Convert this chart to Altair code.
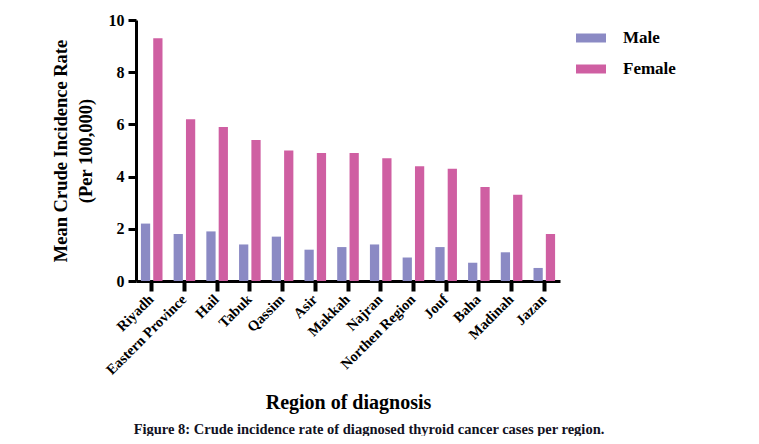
import altair as alt
import pandas as pd

regions = ["Riyadh", "Eastern Province", "Hail", "Tabuk", "Qassim", "Asir", "Makkah",
           "Najran", "Northen Region", "Jouf", "Baha", "Madinah", "Jazan"]
male = [2.2, 1.8, 1.9, 1.4, 1.7, 1.2, 1.3, 1.4, 0.9, 1.3, 0.7, 1.1, 0.5]
female = [9.3, 6.2, 5.9, 5.4, 5.0, 4.9, 4.9, 4.7, 4.4, 4.3, 3.6, 3.3, 1.8]
sexes = ["Male", "Female"]
colors = ["#8B8AC4", "#CF5FA2"]

rows = []
for r, m, f in zip(regions, male, female):
    rows.append({"Region": r, "Sex": "Male", "Rate": m})
    rows.append({"Region": r, "Sex": "Female", "Rate": f})
df = pd.DataFrame(rows)

FONT = "Liberation Serif"

chart = alt.Chart(df).mark_bar().encode(
    x=alt.X("Region:N", sort=regions,
            scale=alt.Scale(paddingInner=0.34, paddingOuter=0.15),
            axis=alt.Axis(title="Region of diagnosis", labelAngle=-45, labelAlign="right",
                          labelBaseline="middle", labelFontSize=14.5, labelFontWeight="bold",
                          labelFont=FONT, labelColor="black", labelPadding=6,
                          tickSize=10, tickWidth=4, tickColor="black",
                          domainWidth=3, domainColor="black",
                          titleFontSize=20, titleFont=FONT, titleFontWeight="bold",
                          titleColor="black", titlePadding=16)),
    xOffset=alt.XOffset("Sex:N", sort=sexes, scale=alt.Scale(paddingInner=0.25)),
    y=alt.Y("Rate:Q", scale=alt.Scale(domain=[0, 10]),
            axis=alt.Axis(title=["Mean Crude Incidence Rate", "(Per 100,000)"],
                          values=[0, 2, 4, 6, 8, 10], grid=False,
                          labelFontSize=16, labelFontWeight="bold", labelFont=FONT,
                          labelColor="black", labelPadding=4,
                          tickSize=8, tickWidth=3, tickColor="black",
                          domainWidth=3, domainColor="black",
                          titleFontSize=18.5, titleFont=FONT, titleFontWeight="bold",
                          titleColor="black", titleLineHeight=25, titlePadding=13)),
    color=alt.Color("Sex:N", sort=sexes,
                    scale=alt.Scale(domain=sexes, range=colors),
                    legend=alt.Legend(title=None, orient="none", legendX=440, legendY=3,
                                      symbolType="M-1,-0.3H1V0.3H-1Z", symbolSize=900,
                                      symbolStrokeWidth=0, labelFontSize=17,
                                      labelFont=FONT, labelFontWeight="bold",
                                      labelColor="black", labelOffset=17, rowPadding=8)),
).properties(
    width=424, height=261,
    title=alt.TitleParams(
        "Figure 8: Crude incidence rate of diagnosed thyroid cancer cases per region.",
        orient="bottom", anchor="middle", fontSize=14.5, font=FONT, fontWeight="bold",
        color="#111122", offset=10, dx=21),
    autosize=alt.AutoSizeParams(type="none"),
    padding={"left": 128, "top": 12, "right": 190, "bottom": 155},
).configure_view(stroke=None)

chart.save("out.html", embed_options={"renderer": "svg", "actions": False})
